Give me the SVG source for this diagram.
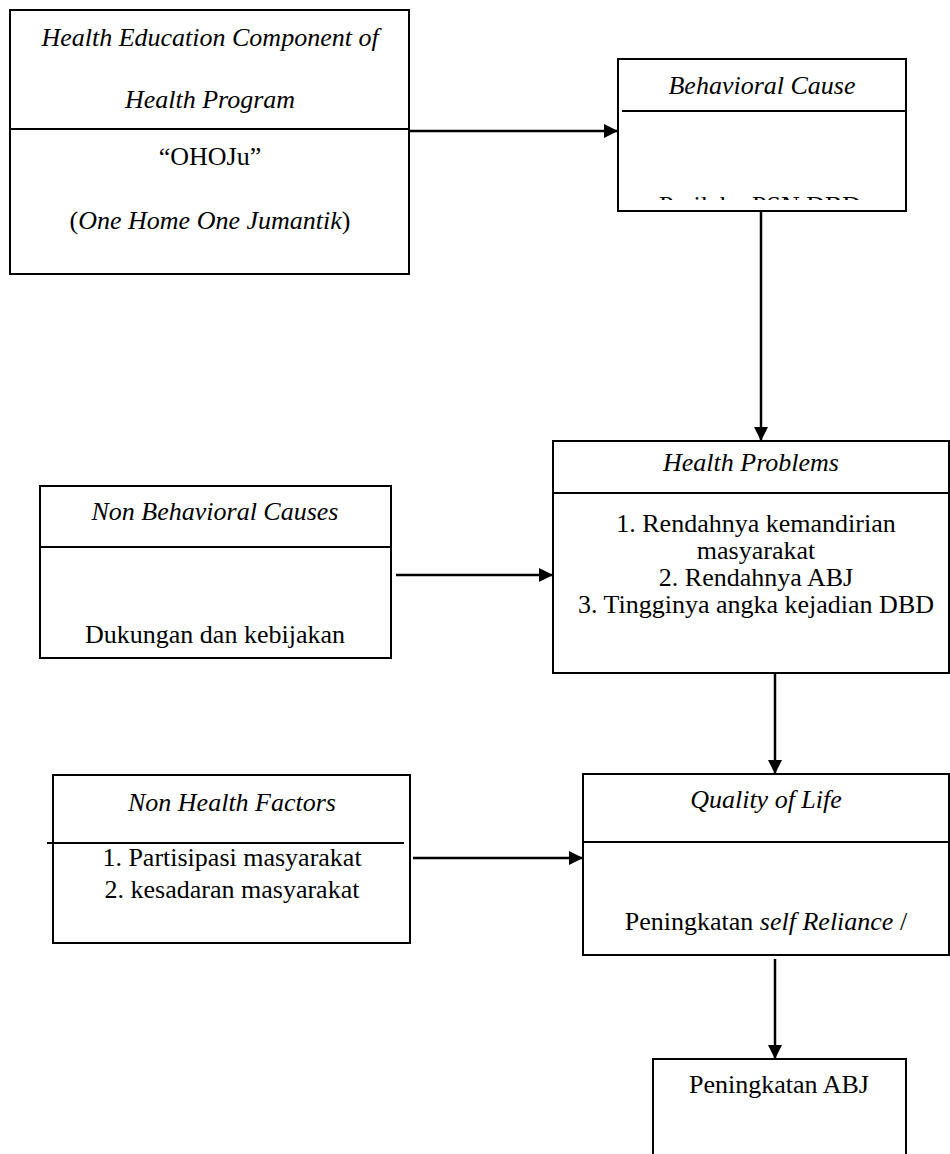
<svg xmlns="http://www.w3.org/2000/svg" width="950" height="1154" viewBox="0 0 950 1154">
<style>
.box{fill:#fff;stroke:#000;stroke-width:2}
.ln{stroke:#000;stroke-width:2;fill:none}
.t{font-family:"Liberation Serif","Times New Roman",serif;font-size:26px;fill:#000;text-anchor:middle}
.i{font-style:italic}
.c{stroke:#000;stroke-width:2.5;fill:none;marker-end:url(#ah)}
</style>
<defs>
<marker id="ah" markerWidth="14" markerHeight="14" viewBox="0 0 14 14" refX="14" refY="7" orient="auto" markerUnits="userSpaceOnUse">
<path d="M0,0 L14,7 L0,14 Z" fill="#000"/>
</marker>
<clipPath id="clipBC"><rect x="619" y="112" width="286" height="88"/></clipPath>
</defs>
<rect width="950" height="1154" fill="#fff"/>
<g id="connectors">
<path class="c" d="M410,131 L618,131"/>
<path class="c" d="M761,211 L761,441"/>
<path class="c" d="M396,575 L553,575"/>
<path class="c" d="M775,673 L775,774"/>
<path class="c" d="M413,858 L583,858"/>
<path class="c" d="M775,959 L775,1059"/>
</g>
<g id="node-health-education">
<rect class="box" x="10" y="10" width="399" height="264"/>
<line class="ln" x1="10" y1="129" x2="409" y2="129"/>
<text class="t i" x="210" y="46">Health Education Component of</text>
<text class="t i" x="210" y="108">Health Program</text>
<text class="t" x="210" y="165">“OHOJu”</text>
<text class="t" x="210" y="229">(<tspan class="i">One Home One Jumantik</tspan>)</text>
</g>
<g id="node-behavioral-cause">
<rect class="box" x="618" y="59" width="288" height="152"/>
<line class="ln" x1="622" y1="111" x2="906" y2="111"/>
<text class="t i" x="762" y="94">Behavioral Cause</text>
<text class="t" x="760" y="214" clip-path="url(#clipBC)">Perilaku PSN DBD</text>
</g>
<g id="node-non-behavioral">
<rect class="box" x="40" y="486" width="351" height="172"/>
<line class="ln" x1="40" y1="547" x2="391" y2="547"/>
<text class="t i" x="215" y="520">Non Behavioral Causes</text>
<text class="t" x="215" y="643">Dukungan dan kebijakan</text>
</g>
<g id="node-health-problems">
<rect class="box" x="553" y="441" width="396" height="232"/>
<line class="ln" x1="553" y1="493" x2="949" y2="493"/>
<text class="t i" x="751" y="471">Health Problems</text>
<text class="t" x="756" y="532">1. Rendahnya kemandirian</text>
<text class="t" x="756" y="559">masyarakat</text>
<text class="t" x="756" y="586">2. Rendahnya ABJ</text>
<text class="t" x="756" y="613">3. Tingginya angka kejadian DBD</text>
</g>
<g id="node-non-health">
<rect class="box" x="53" y="775" width="357" height="168"/>
<line class="ln" x1="47" y1="843" x2="404" y2="843"/>
<text class="t i" x="232" y="811">Non Health Factors</text>
<text class="t" x="232" y="866">1. Partisipasi masyarakat</text>
<text class="t" x="232" y="898">2. kesadaran masyarakat</text>
</g>
<g id="node-quality-of-life">
<rect class="box" x="583" y="774" width="366" height="181"/>
<line class="ln" x1="583" y1="842" x2="949" y2="842"/>
<text class="t i" x="766" y="808">Quality of Life</text>
<text class="t" x="766" y="930">Peningkatan <tspan class="i">self Reliance</tspan> /</text>
</g>
<g id="node-peningkatan-abj">
<path class="ln" d="M653,1160 L653,1059 L906,1059 L906,1160"/>
<text class="t" x="779" y="1093">Peningkatan ABJ</text>
</g>
</svg>
